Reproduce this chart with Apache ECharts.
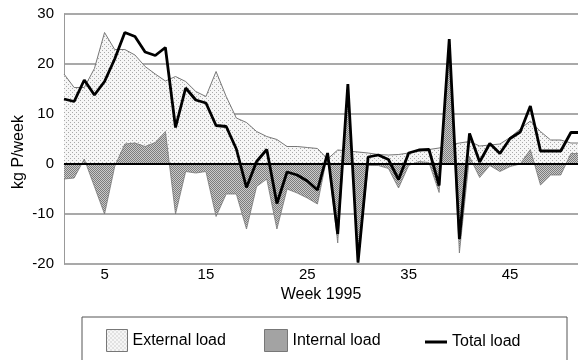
<!DOCTYPE html>
<html>
<head>
<meta charset="utf-8">
<title>P load 1995</title>
<script src="https://cdn.jsdelivr.net/npm/echarts@6/dist/echarts.min.js"></script>
<style>
html,body{margin:0;padding:0;background:#fff;}
#main{width:578px;height:360px;}
</style>
</head>
<body>
<div id="main"></div>
<script>
// weeks of 1995
var weeks = [];
for (var w = 1; w <= 52; w++) weeks.push(w);

var externalLoad = [18.0, 15.3, 15.3, 19.1, 26.3, 22.9, 22.9, 21.8, 19.5, 18.0,
	16.6, 17.5, 16.5, 14.5, 13.5, 18.5, 13.5, 9.2, 8.3, 6.5,
	5.5, 4.9, 3.5, 3.5, 3.3, 3.1, 1.0, 2.8, 2.6, 2.4,
	2.2, 1.9, 1.8, 1.9, 2.2, 2.6, 2.9, 3.2, 3.8, 4.2,
	4.5, 3.6, 3.8, 4.0, 5.3, 7.0, 8.6, 6.5, 4.8, 4.8,
	4.2, 4.2];

var internalLoad = [-3.0, -2.8, 1.0, -4.5, -10.0, -0.5, 4.0, 4.2, 3.5, 4.3,
	6.5, -10.0, -1.5, -1.8, -1.5, -10.5, -6.0, -6.0, -13.0, -4.5,
	-3.0, -13.0, -5.0, -5.8, -6.8, -8.0, 2.0, -15.8, 15.5, -19.8,
	-0.3, -0.3, -0.9, -4.8, -0.3, 0.5, 0.3, -5.7, 24.0, -17.8,
	1.5, -2.7, -0.3, -1.5, -0.5, 0.0, 2.9, -4.2, -2.2, -2.2,
	2.1, 2.1];

var totalLoad = [13.0, 12.5, 16.8, 13.8, 16.5, 21.0, 26.3, 25.5, 22.4, 21.7,
	23.3, 7.3, 15.2, 12.8, 12.2, 7.7, 7.5, 3.0, -4.7, 0.5,
	2.9, -7.9, -1.6, -2.2, -3.4, -5.2, 2.2, -14.0, 16.0, -19.7,
	1.4, 1.8, 0.9, -3.1, 2.2, 2.8, 2.9, -4.3, 25.0, -15.0,
	6.1, 0.4, 4.1, 2.1, 5.1, 6.4, 11.6, 2.6, 2.6, 2.6,
	6.3, 6.3];

var weekTicks = [5, 15, 25, 35, 45];

function pairs(vals){
	return weeks.map(function(wk, i){ return [wk, vals[i]]; });
}

// stippled fill like the printed figure
function stipple(bg, dot, size, pts){
	var c = document.createElement('canvas');
	c.width = size; c.height = size;
	var ctx = c.getContext('2d');
	ctx.fillStyle = bg; ctx.fillRect(0, 0, size, size);
	ctx.fillStyle = dot;
	pts.forEach(function(p){ ctx.fillRect(p[0], p[1], 1, 1); });
	return {image: c, repeat: 'repeat'};
}
var lightFill = stipple('#f6f6f6', '#a8a8a8', 4, [[0, 0], [2, 2]]);
var darkFill = stipple('#cacaca', '#7c7c7c', 2, [[0, 0], [1, 1]]);

var font = 'Liberation Sans, Arial, sans-serif';
var myChart = echarts.init(document.getElementById('main'));

myChart.setOption({
	animation: false,
	grid: {left: 64, top: 14, width: 514, height: 250, containLabel: false},
	xAxis: {
		type: 'value', min: 1, max: 51.7,
		name: 'Week 1995', nameLocation: 'middle', nameGap: 20,
		nameTextStyle: {fontFamily: font, fontSize: 16, color: '#000'},
		axisLine: {lineStyle: {color: '#bbb', width: 1}},
		axisTick: {show: false},
		splitLine: {show: false},
		axisLabel: {customValues: weekTicks, fontFamily: font, fontSize: 15, color: '#000', margin: 3}
	},
	yAxis: {
		type: 'value', min: -20, max: 30, interval: 10,
		axisLine: {show: true, lineStyle: {color: '#999', width: 1}},
		axisTick: {show: false},
		splitLine: {lineStyle: {color: '#8c8c8c', width: 1.5}},
		axisLabel: {fontFamily: font, fontSize: 15, color: '#000', margin: 10}
	},
	graphic: [
		{type: 'text', x: 19, y: 152, rotation: Math.PI / 2,
			style: {text: 'kg P/week', fontFamily: font, fontSize: 16, fill: '#000', align: 'center', verticalAlign: 'middle'}},
		{type: 'rect', shape: {x: 82, y: 317, width: 485, height: 60},
			style: {fill: 'none', stroke: '#555', lineWidth: 1}, silent: true}
	],
	legend: [
		{data: ['External load'], left: 106, top: 329, padding: 0, icon: 'rect', itemWidth: 21, itemHeight: 22,
			itemStyle: {borderColor: '#777', borderWidth: 1},
			textStyle: {fontFamily: font, fontSize: 16, color: '#000'}},
		{data: ['Internal load'], left: 264, top: 329, padding: 0, icon: 'rect', itemWidth: 23, itemHeight: 22,
			itemStyle: {borderColor: '#777', borderWidth: 1},
			textStyle: {fontFamily: font, fontSize: 16, color: '#000'}},
		{data: ['Total load'], left: 425, top: 334, padding: 0, icon: 'rect', itemWidth: 22, itemHeight: 3,
			textStyle: {fontFamily: font, fontSize: 16, color: '#000'}}
	],
	series: [
		{
			name: 'External load', type: 'line', z: 1,
			data: pairs(externalLoad), symbol: 'none',
			lineStyle: {color: '#777', width: 1},
			itemStyle: {color: lightFill},
			areaStyle: {color: lightFill, opacity: 1, origin: 0}
		},
		{
			name: 'Internal load', type: 'line', z: 2,
			data: pairs(internalLoad), symbol: 'none',
			lineStyle: {color: '#777', width: 0.8},
			itemStyle: {color: darkFill},
			areaStyle: {color: darkFill, opacity: 1, origin: 0},
			markLine: {
				silent: true, symbol: 'none', label: {show: false},
				lineStyle: {color: '#000', width: 2, type: 'solid'},
				data: [{yAxis: 0}]
			}
		},
		{
			name: 'Total load', type: 'line', z: 3,
			data: pairs(totalLoad), symbol: 'none',
			lineStyle: {color: '#000', width: 2.8},
			itemStyle: {color: '#000'}
		}
	]
});
</script>
</body>
</html>
